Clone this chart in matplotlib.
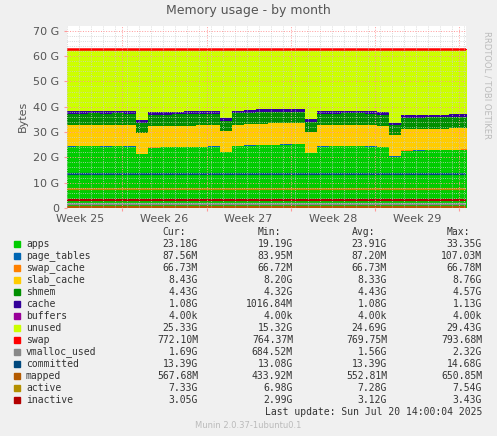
import matplotlib
matplotlib.use("Agg")
import matplotlib.pyplot as plt
import numpy as np

# one sample per day (GB)
apps = [24.2, 24.3, 24.3, 24.2, 24.3, 24.2, 21.3, 23.8, 23.9, 23.9, 24.0, 24.1, 24.2,
        22.0, 24.4, 24.6, 24.8, 24.9, 25.0, 25.1, 21.6, 24.2, 24.3, 24.3, 24.3, 24.2, 24.0,
        20.3, 22.6, 22.7, 22.8, 22.8, 22.9, 23.0]
slab = [8.4, 8.4, 8.4, 8.4, 8.4, 8.4, 8.2, 8.4, 8.4, 8.4, 8.4, 8.4, 8.3,
        8.3, 8.4, 8.4, 8.4, 8.4, 8.4, 8.3, 8.3, 8.4, 8.4, 8.4, 8.4, 8.4, 8.3,
        8.2, 8.4, 8.4, 8.4, 8.4, 8.4, 8.4]
shmem = [4.4, 4.4, 4.5, 4.5, 4.5, 4.4, 4.0, 4.4, 4.4, 4.5, 4.5, 4.5, 4.4,
         4.0, 4.4, 4.5, 4.5, 4.5, 4.5, 4.5, 4.0, 4.4, 4.4, 4.5, 4.5, 4.4, 4.3,
         4.0, 4.4, 4.4, 4.4, 4.4, 4.4, 4.4]
cache = [1.1, 1.1, 1.1, 1.1, 1.1, 1.1, 1.0, 1.1, 1.1, 1.1, 1.1, 1.1, 1.1,
         1.0, 1.1, 1.1, 1.1, 1.1, 1.1, 1.1, 1.0, 1.1, 1.1, 1.1, 1.1, 1.1, 1.1,
         1.0, 1.1, 1.1, 1.1, 1.1, 1.1, 1.1]
page_tables = 0.088
swap_cache = 0.067
swap = 0.77
total = 63.0
committed = 13.4
vmalloc = 1.7
mapped = 0.57
active = 7.3
inactive = 3.05

names = ["apps", "page_tables", "swap_cache", "slab_cache", "shmem", "cache", "buffers",
         "unused", "swap", "vmalloc_used", "committed", "mapped", "active", "inactive"]
colors = ["#00CC00", "#0066B3", "#FF8000", "#FFCC00", "#008F00", "#330099", "#990099",
          "#CCFF00", "#FF0000", "#888888", "#00487D", "#B35A00", "#B38F00", "#B30000"]
cur = ["23.18G", "87.56M", "66.73M", "8.43G", "4.43G", "1.08G", "4.00k", "25.33G",
       "772.10M", "1.69G", "13.39G", "567.68M", "7.33G", "3.05G"]
mins = ["19.19G", "83.95M", "66.72M", "8.20G", "4.32G", "1016.84M", "4.00k", "15.32G",
        "764.37M", "684.52M", "13.08G", "433.92M", "6.98G", "2.99G"]
avgs = ["23.91G", "87.20M", "66.73M", "8.33G", "4.43G", "1.08G", "4.00k", "24.69G",
        "769.75M", "1.56G", "13.39G", "552.81M", "7.28G", "3.12G"]
maxs = ["33.35G", "107.03M", "66.78M", "8.76G", "4.57G", "1.13G", "4.00k", "29.43G",
        "793.68M", "2.32G", "14.68G", "650.85M", "7.54G", "3.43G"]
weeks = ["Week 25", "Week 26", "Week 27", "Week 28", "Week 29"]

n = len(apps)
x = np.arange(n + 1) - 0.25
x[0] = 0
ext = lambda a: np.append(a, a[-1])
apps_a = np.array(apps)
pt = np.full(n, page_tables)
sc = np.full(n, swap_cache)
slab_a, shmem_a, cache_a = map(np.array, (slab, shmem, cache))
sw = np.full(n, swap)
unused = total - swap - apps_a - pt - sc - slab_a - shmem_a - cache_a
stack = [apps_a, pt, sc, slab_a, shmem_a, cache_a, np.zeros(n), unused, sw]

fig = plt.figure(figsize=(4.97, 4.36), dpi=100, facecolor="#F0F0F0")
ax = fig.add_axes([0.135, 0.523, 0.803, 0.418])
ax.set_facecolor("white")
base = np.zeros(n)
for vals, c in zip(stack, colors):
    ax.fill_between(x, ext(base), ext(base + vals), step="post", color=c, lw=0)
    base = base + vals
ax.plot([0, 33.2], [total, total], color=colors[8], lw=1.8)
for v, c in zip([vmalloc, committed, mapped, active, inactive], colors[9:]):
    ax.plot([0, 33.2], [v, v], color=c, lw=1.6)

ax.set_xlim(0, 33.2)
ax.set_ylim(0, 72)
ax.set_yticks(range(0, 71, 10))
ax.set_yticklabels(["0"] + [f"{v} G" for v in range(10, 71, 10)], fontsize=8, color="#555555")
ax.set_yticks(np.arange(0, 72, 2), minor=True)
bounds = [4.6 + 7 * i for i in range(5)]
ax.set_xticks(bounds)
ax.set_xticklabels([])
ax.set_xticks(np.arange(0, 33.2, 1), minor=True)
for i, w in enumerate(weeks):
    ax.text(bounds[i] - 3.5, -2.5, w, ha="center", va="top", fontsize=8, color="#555555")
ax.grid(which="minor", color="#cccccc", ls=":", lw=0.6)
ax.grid(which="major", color="#ff9999", ls=":", lw=0.7)
ax.set_axisbelow(False)
ax.tick_params(which="both", length=2, color="#ff9999")
ax.tick_params(axis="y", which="minor", length=0)
ax.tick_params(axis="x", which="minor", length=0)
for s in ax.spines.values():
    s.set_visible(False)
ax.set_ylabel("Bytes", fontsize=8, color="#555555")

fig.text(0.5, 0.975, "Memory usage - by month", ha="center", va="center", fontsize=9, color="#555555")
fig.text(0.98, 0.93, "RRDTOOL / TOBI OETIKER", rotation=270, ha="center", va="top",
         fontsize=6, color="#bbbbbb")

mono = dict(family="DejaVu Sans Mono", fontsize=7, color="#333333", va="center")
fy = lambda py: 1 - py / 436
for px, h in zip([186, 281, 375, 470], ["Cur:", "Min:", "Avg:", "Max:"]):
    fig.text(px / 497, fy(232), h, ha="right", **mono)
for i, nm in enumerate(names):
    y = fy(244 + 12 * i)
    fig.patches.append(plt.Rectangle((14 / 497, y - 3 / 436), 6 / 497, 6 / 436,
                                     transform=fig.transFigure, color=colors[i]))
    fig.text(26 / 497, y, nm, ha="left", **mono)
    for px, col in zip([198, 293, 387, 482], [cur, mins, avgs, maxs]):
        fig.text(px / 497, y, col[i], ha="right", **mono)
fig.text(482 / 497, fy(412), "Last update: Sun Jul 20 14:00:04 2025", ha="right", **mono)
fig.text(248 / 497, fy(425), "Munin 2.0.37-1ubuntu0.1", ha="center", va="center",
         fontsize=6, color="#bbbbbb")

fig.savefig("out.png", facecolor=fig.get_facecolor())
